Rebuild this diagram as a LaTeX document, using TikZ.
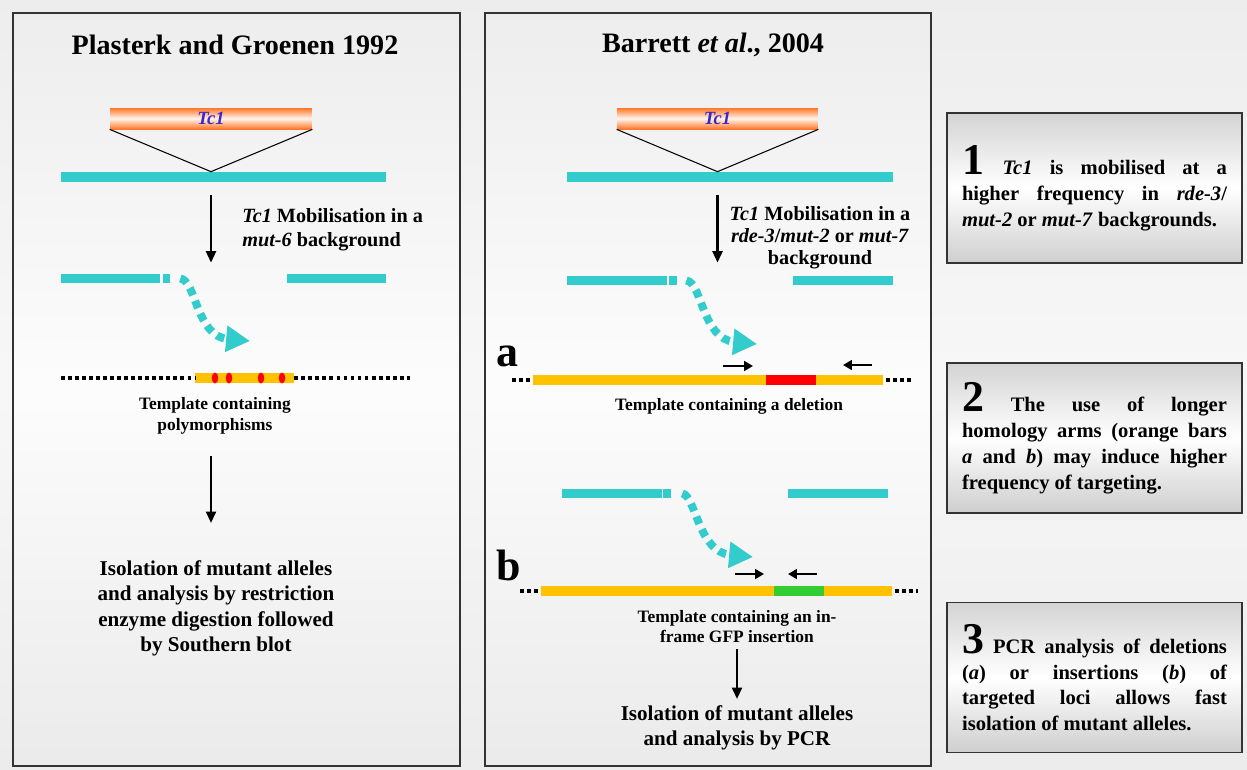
\documentclass[tikz,border=0pt]{standalone}
\usepackage{fontspec}
\setmainfont{Liberation Serif}
\usetikzlibrary{positioning, arrows.meta}
\usepackage{xcolor}
\definecolor{chromcolor}{RGB}{51,204,204}
\definecolor{armcolor}{RGB}{255,194,0}
\definecolor{delcolor}{RGB}{255,0,0}
\definecolor{gfpcolor}{RGB}{50,205,50}
\definecolor{tcorange}{RGB}{255,118,40}
\definecolor{tclight}{RGB}{255,246,238}
\definecolor{tclabel}{RGB}{60,40,200}
\pgfdeclareverticalshading{backshade}{100bp}{color(0bp)=(black!12); color(50bp)=(black!3); color(100bp)=(black!11)}
\pgfdeclareverticalshading{panelshade}{100bp}{color(0bp)=(black!15); color(50bp)=(black!1); color(100bp)=(black!13)}
\pgfdeclareverticalshading{noteshade}{100bp}{color(0bp)=(black!38); color(50bp)=(white); color(100bp)=(black!34)}

\begin{document}
\begin{tikzpicture}[x=0.02cm, y=-0.02cm]
  \tikzset{
    panel/.style={
      draw=black!80,
      line width=1.1pt,
      shade,
      shading=panelshade,
      minimum height=15.06cm
    },
    notebox/.style={
      draw=black!80,
      line width=1.1pt,
      shade,
      shading=noteshade,
      text width=5.3cm,
      inner xsep=0.3cm,
      minimum height=3cm,
      align=justify,
      font=\bfseries\fontsize{11.7}{14.7}\selectfont
    },
    heading/.style={
      font=\bfseries\fontsize{16}{19}\selectfont
    },
    tcbar/.style={
      top color=tcorange,
      bottom color=tcorange,
      middle color=tclight,
      minimum height=0.42cm,
      inner sep=0pt,
      text=tclabel,
      font=\bfseries\itshape\fontsize{10.6}{12}\selectfont
    },
    chrom/.style={fill=chromcolor, inner sep=0pt, minimum height=0.18cm},
    armbar/.style={fill=armcolor, inner sep=0pt, minimum height=0.19cm},
    delbar/.style={fill=delcolor, inner sep=0pt, minimum height=0.19cm},
    gfpbar/.style={fill=gfpcolor, inner sep=0pt, minimum height=0.19cm},
    vline/.style={line width=0.6pt},
    flow/.style={line width=1.4pt, -{Triangle[length=6.5pt,width=5.6pt]}},
    transpose/.style={
      chromcolor,
      line width=4.5pt,
      dash pattern=on 4.5pt off 3.4pt,
      -{Triangle[length=13.6pt,width=14.2pt]}
    },
    primer/.style={line width=1.6pt, -{Triangle[length=5pt,width=5.5pt]}},
    dotline/.style={line width=2pt, dash pattern=on 2.2pt off 1.8pt},
    tpltext/.style={inner sep=0pt, align=center, font=\bfseries\fontsize{9.9}{12}\selectfont},
    mobtext/.style={inner sep=0pt, font=\bfseries\fontsize{11.5}{13.6}\selectfont},
    outcome/.style={inner sep=0pt, align=center, font=\bfseries\fontsize{12}{14.5}\selectfont},
    panellabel/.style={inner sep=0pt, font=\bfseries\fontsize{25}{25}\selectfont}
  }

  % Background
  \useasboundingbox (0,0) rectangle (1247,769);
  \shade[shading=backshade] (0,0) rectangle (1247,769);

  % Draw the two panels
  \node[panel, minimum width=8.94cm] (left) at (236.5,389.5) {};
  \node[panel, minimum width=8.92cm] (mid) at (708,389.5) {};

  % Left panel: Plasterk and Groenen
  \node[heading] (titleL) at (235,45) {Plasterk and Groenen 1992};
  \node[tcbar, minimum width=4.04cm] (tcL) at (211,118.5) {Tc1};
  \node[chrom, minimum width=6.5cm, minimum height=0.2cm] (chrL) at (223.5,177) {};
  \draw[vline] (tcL.south west) -- (chrL.north -| tcL.south) -- (tcL.south east);
  \node[mobtext, anchor=north west, align=left] (mobL) at (242,208)
    {\textit{Tc1} Mobilisation in a\\\textit{mut-6} background};

  % broken chromosome
  \node[chrom, minimum width=1.98cm] (brkL1) at (110.5,278.5) {};
  \node[chrom, minimum width=0.14cm] (stubL) at (166.5,278.5) {};
  \node[chrom, minimum width=1.98cm] (brkL2) at (336.5,278.5) {};
  \draw[flow, shorten <=0.26cm, shorten >=0.22cm] (chrL.south -| tcL.south) -- (brkL1.north -| tcL.south);
  \coordinate (tipL) at (250,341);
  \draw[transpose] ([xshift=0.2cm]stubL.east) .. controls (196,280) and (196,336) .. (tipL);

  % template with polymorphisms
  \node[armbar, minimum width=1.98cm, minimum height=0.2cm] (tplL) at (244.5,378) {};
  \coordinate (dotL1) at (61,378);
  \coordinate (dotL2) at (410,378);
  \draw[dotline] (dotL1) -- (tplL.west);
  \draw[dotline] (tplL.east) -- (dotL2);
  \foreach \x in {215,229,261,282}
    \fill[delcolor] (\x,378) ellipse [x radius=0.065cm, y radius=0.11cm];
  \node[tpltext, anchor=north] (capL) at (215,397) {Template containing\\polymorphisms};

  \node[outcome, anchor=north] (resL) at (216,560)
    {Isolation of mutant alleles\\and analysis by restriction\\enzyme digestion followed\\by Southern blot};
  \draw[flow, shorten <=0.42cm, shorten >=0.74cm] (capL.south -| tcL.south) -- (resL.north -| tcL.south);

  % Middle panel: Barrett et al.
  \node[heading] (titleM) at (713,45) {Barrett \textit{et al}., 2004};
  \node[tcbar, minimum width=4.02cm] (tcM) at (717.5,118.5) {Tc1};
  \node[chrom, minimum width=6.52cm, minimum height=0.2cm] (chrM) at (730,177) {};
  \draw[vline] (tcM.south west) -- (chrM.north -| tcM.south) -- (tcM.south east);
  \node[mobtext, anchor=north, align=center, font=\bfseries\fontsize{11.5}{12.6}\selectfont] (mobM) at (820,206)
    {\textit{Tc1} Mobilisation in a\\\textit{rde-3}/\textit{mut-2} or \textit{mut-7}\\background};

  % deletion template (a)
  \node[chrom, minimum width=2cm] (brkM1) at (617,280.5) {};
  \node[chrom, minimum width=0.16cm] (stubM) at (673,280.5) {};
  \node[chrom, minimum width=2cm] (brkM2) at (843,280.5) {};
  \draw[flow, shorten <=0.26cm, shorten >=0.26cm] (chrM.south -| tcM.south) -- (brkM1.north -| tcM.south);
  \coordinate (tipM) at (757,344);
  \draw[transpose] ([xshift=0.18cm]stubM.east) .. controls (702,282) and (702,339) .. (tipM);

  \node[panellabel] (labA) at (507,356) {a};
  \node[armbar, minimum width=4.66cm] (armA1) at (649.5,380) {};
  \node[delbar, minimum width=1cm] (delA) at (791,380) {};
  \node[armbar, minimum width=1.34cm] (armA2) at (849.5,380) {};
  \coordinate (dotA1) at (512,380);
  \coordinate (dotA2) at (911,380);
  \draw[dotline] (dotA1) -- ([xshift=-0.06cm]armA1.west);
  \draw[dotline] ([xshift=0.06cm]armA2.east) -- (dotA2);
  \coordinate (pa1) at (723,366);
  \coordinate (pa2) at (753,366);
  \coordinate (pa3) at (872,365);
  \coordinate (pa4) at (843,365);
  \draw[primer] (pa1) -- (pa2);
  \draw[primer] (pa3) -- (pa4);
  \node[tpltext] (capA) at (729,406) {Template containing a deletion};

  % insertion template (b)
  \node[chrom, minimum width=2cm] (brkN1) at (612,493.5) {};
  \node[chrom, minimum width=0.16cm] (stubN) at (667,493.5) {};
  \node[chrom, minimum width=2cm] (brkN2) at (838,493.5) {};
  \coordinate (tipN) at (753,557);
  \draw[transpose] ([xshift=0.22cm]stubN.east) .. controls (696,496) and (698,552) .. (tipN);

  \node[panellabel] (labB) at (509,565) {b};
  \node[armbar, minimum width=4.66cm] (armB1) at (657.5,591) {};
  \node[gfpbar, minimum width=1cm] (gfpB) at (799,591) {};
  \node[armbar, minimum width=1.36cm] (armB2) at (858,591) {};
  \coordinate (dotB1) at (520,591);
  \coordinate (dotB2) at (918,591);
  \draw[dotline] (dotB1) -- ([xshift=-0.06cm]armB1.west);
  \draw[dotline] ([xshift=0.06cm]armB2.east) -- (dotB2);
  \coordinate (pb1) at (735,574);
  \coordinate (pb2) at (764,574);
  \coordinate (pb3) at (817,574);
  \coordinate (pb4) at (788,574);
  \draw[primer] (pb1) -- (pb2);
  \draw[primer] (pb3) -- (pb4);
  \node[tpltext, anchor=north, font=\bfseries\fontsize{9.9}{11.5}\selectfont] (capB) at (737,610)
    {Template containing an in-\\frame GFP insertion};

  \node[outcome, anchor=north] (resB) at (737,705)
    {Isolation of mutant alleles\\and analysis by PCR};
  \draw[flow, shorten <=0.12cm, shorten >=0.12cm] (capB.south) -- (resB.north);

  % Right hand notes
  \node[notebox] (note1) at (1094.5,188)
    {\noindent{\fontsize{25}{14.7}\selectfont 1}\hspace{0.9em}\textit{Tc1} is mobilised at a\linebreak higher frequency in \textit{rde-3}/\linebreak \textit{mut-2} or \textit{mut-7} backgrounds.};
  \node[notebox] (note2) at (1094.5,438)
    {\noindent{\fontsize{25}{14.7}\selectfont 2} The use of longer\linebreak homology arms (orange bars\linebreak \textit{a} and \textit{b}) may induce higher\linebreak frequency of targeting.};
  \node[notebox] (note3) at (1094.5,677.5)
    {\noindent{\fontsize{25}{14.7}\selectfont 3} PCR analysis of deletions\linebreak (\textit{a}) or insertions (\textit{b}) of\linebreak targeted loci allows fast\linebreak isolation of mutant alleles.};

\end{tikzpicture}
\end{document}
